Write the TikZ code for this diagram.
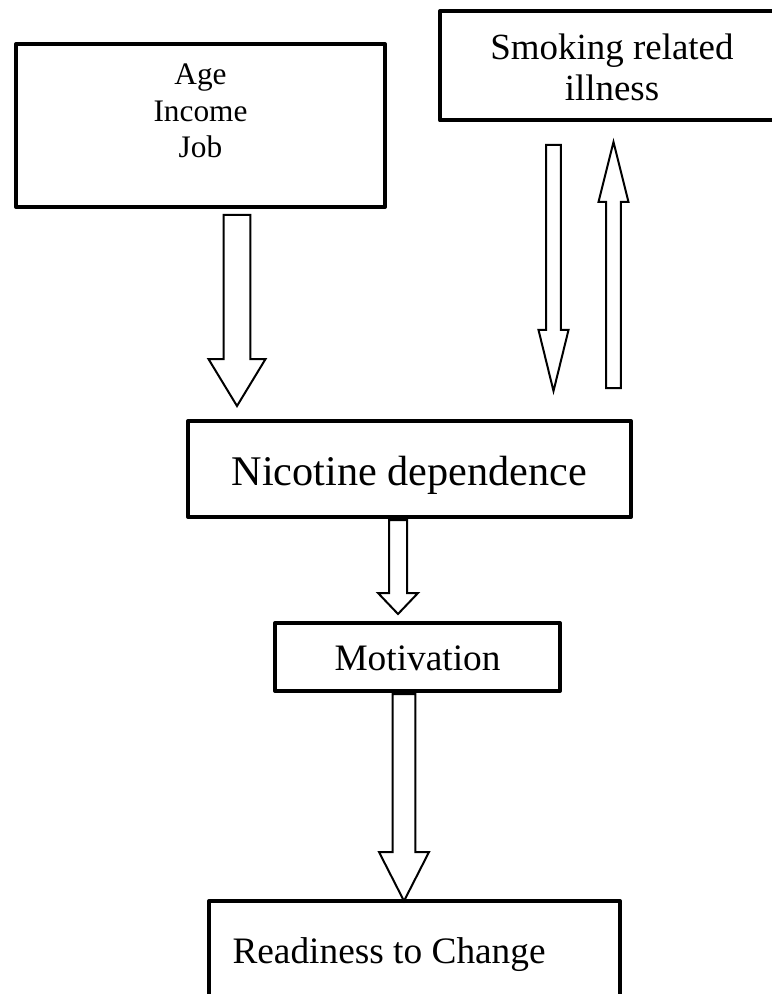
\documentclass[tikz,border=0pt]{standalone}
\usepackage{fontspec}
\setmainfont{Liberation Serif}
\usetikzlibrary{calc}

\tikzset{every picture/.style={line width=0.75pt}}
\tikzset{
  box/.style={draw, line width=3pt, line join=round, inner sep=0pt},
  blockline/.style={draw, line width=1.5pt, line join=miter},
  lbl/.style={inner sep=0pt, font=\fontsize{28pt}{31pt}\selectfont},
}

% hollow block arrow: #1 tail, #2 tip, #3 half shaft, #4 half head, #5 head length
\newcommand{\blockarrow}[5]{%
  \path (#1) coordinate (ba-s) (#2) coordinate (ba-e);
  \path ($(ba-e)!#5!(ba-s)$) coordinate (ba-h);
  \draw[blockline] ($(ba-s)!#3!90:(ba-e)$) -- ($(ba-h)!#3!90:(ba-e)$) -- ($(ba-h)!#4!90:(ba-e)$) -- (ba-e)
    -- ($(ba-h)!#4!-90:(ba-e)$) -- ($(ba-h)!#3!-90:(ba-e)$) -- ($(ba-s)!#3!-90:(ba-e)$) -- cycle;
}

\begin{document}
\begin{tikzpicture}[x=0.75pt,y=0.75pt,yscale=-1,xscale=1]
		\useasboundingbox (0,0) rectangle (771,994);
		
		%Shape: Rectangle [age income job]
		\node[box, minimum width=276.75pt, minimum height=122.25pt] (age) at (200.5,125.5) {};
		%Shape: Rectangle [smoking related illness]
		\node[box, minimum width=262.5pt, minimum height=82.125pt] (smk) at (615,65.75) {};
		%Shape: Rectangle [nicotine dependence]
		\node[box, minimum width=332.25pt, minimum height=72pt] (nic) at (409.5,469) {};
		%Shape: Rectangle [motivation]
		\node[box, minimum width=213.75pt, minimum height=51pt] (mot) at (417.5,657) {};
		%Shape: Rectangle [readiness]
		\node[box, minimum width=308.25pt, minimum height=81.75pt] (rdy) at (414.5,955.5) {};
		
		%Block Arrows
		\blockarrow{$(age.south)+(36.5,6)$}{$(nic.north)+(-172.5,-13)$}{10.1pt}{21.4pt}{35.25pt}
		\blockarrow{$(smk.south)+(-61.5,22.5)$}{$(nic.north)+(144,-28)$}{5.6pt}{11.25pt}{45.75pt}
		\blockarrow{$(nic.north)+(204,-31)$}{$(smk.south)+(-1.5,19.5)$}{5.6pt}{11.25pt}{45pt}
		\blockarrow{$(nic.south)+(-11.5,1)$}{$(mot.north)+(-19.5,-7)$}{6.75pt}{15pt}{15.75pt}
		\blockarrow{$(mot.south)+(-13.5,1)$}{$(rdy.north)+(-10.5,2)$}{8.6pt}{18.75pt}{36.75pt}
		
		% Text Node
		\node[lbl, align=center, font=\fontsize{23.5pt}{27.5pt}\selectfont] (agetxt) at (200.5,111) {Age\\Income\\Job};
		% Text Node
		\node[lbl, align=center, font=\fontsize{27.7pt}{30.75pt}\selectfont] (smktxt) at (612,67) {Smoking related\\illness};
		% Text Node
		\node[lbl, anchor=base, font=\fontsize{31.7pt}{35pt}\selectfont] (nictxt) at (409.5,485) {Nicotine dependence};
		% Text Node
		\node[lbl, anchor=base] (mottxt) at (417.5,670) {Motivation};
		% Text Node
		\node[lbl, anchor=base west] (rdytxt) at (232,963) {Readiness to Change};
\end{tikzpicture}
\end{document}
